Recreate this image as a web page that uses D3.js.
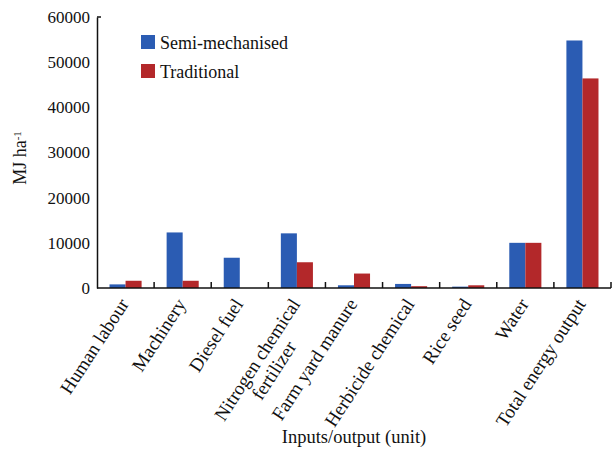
<!DOCTYPE html>
<html>
<head>
<meta charset="utf-8">
<script src="https://cdn.jsdelivr.net/npm/d3@7"></script>
<style>
  html, body { margin: 0; padding: 0; background: #fff; }
  svg text { font-family: "Liberation Serif", "Times New Roman", Times, serif; fill: #111; }
</style>
</head>
<body>
<svg id="chart" width="615" height="451"></svg>
<script>
const categories = [
  ["Human labour"],
  ["Machinery"],
  ["Diesel fuel"],
  ["Nitrogen chemical", "fertilizer"],
  ["Farm yard manure"],
  ["Herbicide chemical"],
  ["Rice seed"],
  ["Water"],
  ["Total energy output"]
];
const seriesNames = ["Semi-mechanised", "Traditional"];
const semiMechanised = [800, 12300, 6700, 12100, 600, 900, 300, 10000, 54800];
const traditional = [1600, 1600, 0, 5700, 3200, 400, 600, 10000, 46400];
const yTicks = [0, 10000, 20000, 30000, 40000, 50000, 60000];
const colors = ["#2b5cb3", "#b3282a"];

(function () {
const svg = d3.select("#chart");
const mLeft = 97, mRight = 611, mTop = 17, mBottom = 288;

const catKeys = categories.map(c => c.join(" "));
const x0 = d3.scaleBand().domain(catKeys).range([mLeft, mRight]).padding(0);
const x1 = d3.scaleBand().domain(seriesNames).range([0, x0.bandwidth()]).paddingInner(0).paddingOuter(0.78);
const y = d3.scaleLinear().domain([0, 60000]).range([mBottom, mTop]);

const rows = catKeys.map((k, i) => ({ key: k, values: [semiMechanised[i], traditional[i]] }));

// bars
const g = svg.append("g");
g.selectAll("g.grp").data(rows).join("g")
  .attr("class", "grp")
  .attr("transform", d => `translate(${x0(d.key)},0)`)
  .selectAll("rect").data(d => d.values.map((v, j) => ({ s: seriesNames[j], v, j })))
  .join("rect")
  .attr("x", d => x1(d.s))
  .attr("width", x1.bandwidth())
  .attr("y", d => y(d.v))
  .attr("height", d => y(0) - y(d.v))
  .attr("fill", d => colors[d.j]);

// y axis
const yAxis = svg.append("g").attr("transform", `translate(${mLeft},0)`)
  .call(d3.axisLeft(y).tickValues(yTicks).tickFormat(d3.format("d")).tickSize(0).tickPadding(7));
yAxis.attr("font-family", null);
yAxis.select(".domain").attr("stroke", "#111").attr("stroke-width", 1.5);
yAxis.selectAll("text").style("font-family", "'Liberation Serif', serif").style("font-size", "17px").attr("fill", "#111");
// small cap at top of y axis
svg.append("line").attr("x1", mLeft).attr("x2", mLeft + 4).attr("y1", y(60000)).attr("y2", y(60000))
  .attr("stroke", "#111").attr("stroke-width", 1.5);

// x axis line and ticks at band boundaries
svg.append("line").attr("x1", mLeft).attr("x2", mRight).attr("y1", y(0)).attr("y2", y(0))
  .attr("stroke", "#111").attr("stroke-width", 1.5);
const boundaries = catKeys.slice(1).map(k => x0(k)).concat([x0(catKeys[catKeys.length - 1]) + x0.bandwidth()]);
svg.selectAll("line.xt").data(boundaries).join("line").attr("class", "xt")
  .attr("x1", d => d).attr("x2", d => d).attr("y1", y(0)).attr("y2", y(0) - 6)
  .attr("stroke", "#111").attr("stroke-width", 1.5);

// rotated category labels
const angle = -57;
categories.forEach((lines, i) => {
  const cx = x0(catKeys[i]) + x0.bandwidth() / 2;
  const t = svg.append("text")
    .attr("transform", `translate(${cx + 4},${y(0) + 16}) rotate(${angle})`)
    .style("font-size", "19px");
  const t1 = t.append("tspan").attr("x", 0).attr("text-anchor", "end").text(lines[0]);
  if (lines.length > 1) {
    const w = t1.node().getComputedTextLength();
    t.append("tspan").attr("x", -w / 2).attr("dy", "1.05em").attr("text-anchor", "middle").text(lines[1]);
  }
});

// axis titles
svg.append("text").attr("x", (mLeft + mRight) / 2).attr("y", 443).attr("text-anchor", "middle")
  .style("font-size", "18.5px").text("Inputs/output (unit)");
const yt = svg.append("text").attr("transform", `translate(26,158) rotate(-90)`).attr("text-anchor", "middle")
  .style("font-size", "18px");
yt.append("tspan").text("MJ ha");
yt.append("tspan").attr("dy", "-0.45em").style("font-size", "11px").text("-1");

// legend
const leg = svg.append("g");
seriesNames.forEach((s, j) => {
  leg.append("rect").attr("x", 141).attr("y", 35 + j * 29).attr("width", 14).attr("height", 14).attr("fill", colors[j]);
  leg.append("text").attr("x", 160).attr("y", 49 + j * 29).style("font-size", "18px").text(s);
});
})();
</script>
</body>
</html>
